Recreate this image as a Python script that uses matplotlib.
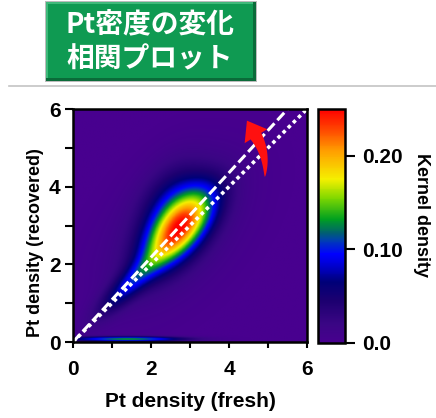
import numpy as np
import matplotlib
matplotlib.use("Agg")
import matplotlib.pyplot as plt
from matplotlib.colors import LinearSegmentedColormap
from matplotlib.patches import Rectangle, Polygon
from matplotlib.lines import Line2D

# kernel density surface built from a few elongated gaussian lobes
lobe_x = [2.72, 2.60, 1.45, 2.55, 1.40]
lobe_y = [2.92, 3.40, 1.50, 2.80, 0.07]
lobe_sd_major = [0.85, 0.80, 0.80, 1.50, 1.00]
lobe_sd_minor = [0.38, 0.55, 0.22, 0.85, 0.045]
lobe_angle = [50, 70, 45, 48, 0]
lobe_height = [0.17, 0.065, 0.07, 0.03, 0.13]

fit_slope = 1.09          # fitted recovered/fresh ratio
axis_ticks = [0, 2, 4, 6]
density_ticks = [0.0, 0.10, 0.20]
density_labels = ["0.0", "0.10", "0.20"]
density_max = 0.25

title_text = "Pt密度の変化\n相関プロット"

W, H = 436, 418
fig = plt.figure(figsize=(W / 100, H / 100), dpi=100)
fig.patch.set_facecolor("white")


def px(x, y):
    return x / W, 1 - y / H


def curved_arrow(ax, tail, ctrl, base, tip, head_half, body_half, color):
    # tapered body along a quadratic bezier, then a triangular head
    p0, p1, p2 = np.array(tail), np.array(ctrl), np.array(base)
    t = np.linspace(0, 1, 40)[:, None]
    pts = (1 - t) ** 2 * p0 + 2 * (1 - t) * t * p1 + t ** 2 * p2
    d = 2 * (1 - t) * (p1 - p0) + 2 * t * (p2 - p1)
    d /= np.linalg.norm(d, axis=1, keepdims=True)
    n = np.column_stack([-d[:, 1], d[:, 0]])
    w = body_half * t[:, 0] ** 0.7
    left = pts + n * w[:, None]
    right = pts - n * w[:, None]
    hn = n[-1] * head_half
    outline = np.vstack([left, [p2 + hn], [tip], [p2 - hn], right[::-1]])
    ax.add_patch(Polygon(outline, closed=True, facecolor=color, edgecolor="none", zorder=5))


# title badge
x0, y0 = px(46, 81)
x1, y1 = px(256, 2)
fig.patches.append(Rectangle((x0 - 1 / W, y0 - 1 / H), x1 - x0 + 2 / W, y1 - y0 + 2 / H,
                             transform=fig.transFigure, facecolor="#bcbcbc", edgecolor="none"))
fig.patches.append(Rectangle((x0, y0), x1 - x0, y1 - y0, transform=fig.transFigure,
                             facecolor="#0a6b39", edgecolor="none"))
fig.patches.append(Rectangle((x0, y0 + 3 / H), x1 - x0 - 3 / W, y1 - y0 - 3 / H,
                             transform=fig.transFigure, facecolor="#3fb97a", edgecolor="none"))
fig.patches.append(Rectangle((x0 + 2 / W, y0 + 3 / H), x1 - x0 - 5 / W, y1 - y0 - 5 / H,
                             transform=fig.transFigure, facecolor="#0f9a52", edgecolor="none"))
tx, ty = px(150, 42)
fig.text(tx, ty, title_text, ha="center", va="center", color="white", fontsize=20,
         fontweight="bold", linespacing=1.35, family=["Noto Sans CJK JP", "DejaVu Sans"])

# separator line
sx0, sy = px(9, 86)
fig.lines.append(Line2D([sx0, 1], [sy, sy], transform=fig.transFigure, color="#c4c4c4", lw=1.2))

cmap = LinearSegmentedColormap.from_list("kde", [
    (0.00, "#48008f"), (0.08, "#3a0684"), (0.18, "#1c0070"), (0.26, "#000078"),
    (0.33, "#0000d0"), (0.38, "#0000ff"), (0.44, "#0040b0"), (0.47, "#006070"),
    (0.53, "#00a020"), (0.62, "#80d800"), (0.70, "#f5f000"), (0.82, "#ffa000"),
    (0.92, "#ff4000"), (1.00, "#ff0000")])

xs = np.linspace(0, 6, 400)
X, Y = np.meshgrid(xs, xs)
Z = np.zeros_like(X)
for cx, cy, sa, sb, ang, h in zip(lobe_x, lobe_y, lobe_sd_major, lobe_sd_minor,
                                  lobe_angle, lobe_height):
    t = np.deg2rad(ang)
    u = (X - cx) * np.cos(t) + (Y - cy) * np.sin(t)
    v = -(X - cx) * np.sin(t) + (Y - cy) * np.cos(t)
    Z += h * np.exp(-0.5 * ((u / sa) ** 2 + (v / sb) ** 2))

ax = fig.add_axes([73 / W, 1 - 342 / H, 234 / W, 233 / H])
im = ax.imshow(Z, extent=[0, 6, 0, 6], origin="lower", cmap=cmap, vmin=0, vmax=density_max,
               interpolation="bilinear", aspect="auto")

line_x = np.array([0, 6])
ax.plot(line_x, fit_slope * line_x, color="white", lw=2.2, dashes=(3.3, 1.4))
ax.plot(line_x, line_x, color="white", lw=2.6, dashes=(1, 1))
ax.set_xlim(0, 6)
ax.set_ylim(0, 6)

# red arrow: the fit line is steeper than y = x
curved_arrow(ax, tail=(4.92, 4.25), ctrl=(4.97, 4.85), base=(4.69, 5.30), tip=(4.46, 5.70),
             head_half=0.34, body_half=0.16, color="#ff1010")

label_font = dict(family="Liberation Sans", fontweight="bold")
ax.set_xticks(axis_ticks)
ax.set_yticks(axis_ticks)
ax.set_xticks([1, 3, 5], minor=True)
ax.set_yticks([1, 3, 5], minor=True)
ax.set_xticklabels([str(t) for t in axis_ticks], fontsize=15, **label_font)
ax.set_yticklabels([str(t) for t in axis_ticks], fontsize=15, **label_font)
ax.tick_params(axis="x", which="both", direction="out", length=4, width=1.5, pad=9)
ax.tick_params(axis="y", which="both", direction="out", length=6, width=1.5, pad=3)
for sp in ax.spines.values():
    sp.set_linewidth(1.8)
ax.set_xlabel("Pt density (fresh)", fontsize=15, **label_font)
ax.set_ylabel("Pt density (recovered)", fontsize=13, **label_font)
ax.xaxis.set_label_coords(0.5, -0.215)
ax.yaxis.set_label_coords(-0.125, 0.425)

cax = fig.add_axes([318 / W, 1 - 343 / H, 27 / W, 234 / H])
cb = fig.colorbar(im, cax=cax)
cb.set_ticks(density_ticks)
cb.set_ticklabels(density_labels)
cb.outline.set_linewidth(1.8)
cax.tick_params(length=7, width=1.5, pad=5)
for lbl in cax.get_yticklabels():
    lbl.set_fontsize(15)
    lbl.set_fontweight("bold")
    lbl.set_family("Liberation Sans")
kx, ky = px(421, 215)
fig.text(kx, ky, "Kernel density", rotation=270, ha="center", va="center", fontsize=13,
         **label_font)

fig.savefig("out.png", dpi=100)
